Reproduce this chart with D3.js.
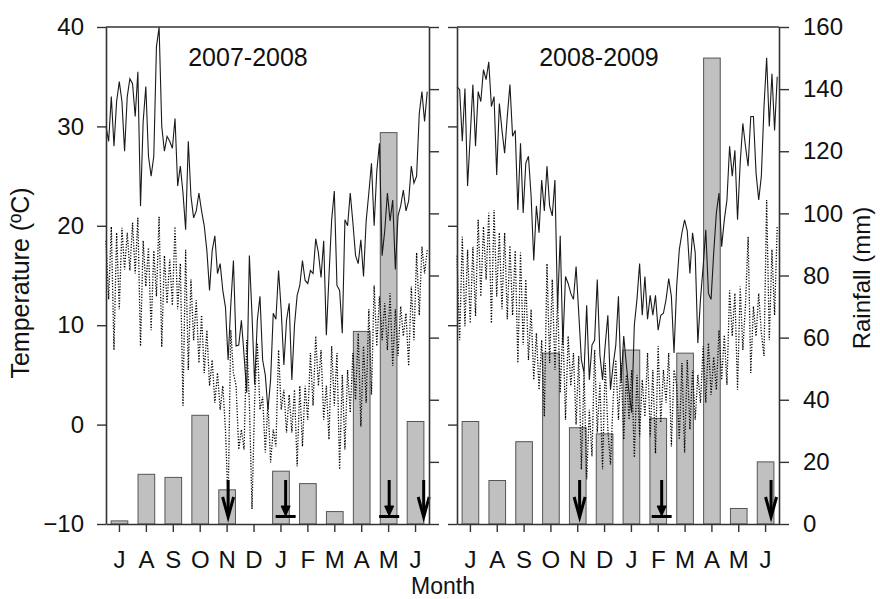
<!DOCTYPE html>
<html>
<head>
<meta charset="utf-8">
<script src="https://cdn.jsdelivr.net/npm/d3@7"></script>
<style>
  body { margin: 0; background: #fff; }
  svg { display: block; font-family: "Liberation Sans", Arial, sans-serif; }
</style>
</head>
<body>
<svg id="chart" width="880" height="599"></svg>
<script>
// Month labels (July to June) and axis ticks
const months = ["J", "A", "S", "O", "N", "D", "J", "F", "M", "A", "M", "J"];
const tempTicks = [-10, 0, 10, 20, 30, 40];
const rainTicks = [0, 20, 40, 60, 80, 100, 120, 140, 160];
const seasons = ["2007-2008", "2008-2009"];

// Monthly rainfall (mm)
const rain0708 = [1, 16, 15, 35, 11, 0, 17, 13, 4, 62, 126, 33];
const rain0809 = [33, 14, 26.5, 55, 31, 29, 56, 34, 55, 150, 5, 20];

// Daily temperature (°C), one reading every 3 days from 1 July
const dayStep = 3;
const tmax0708 = [
  30, 28.5, 33, 28, 32.5, 34.5, 32.5, 27.5, 33, 34.8,
  34.3, 31, 35.5, 22, 30.5, 34, 27, 25, 27, 38,
  40, 30, 27.5, 29, 28.5, 27.8, 30.8, 24, 26, 23.3,
  19.6, 28.5, 23, 20.8, 21.5, 23.3, 21.5, 20, 17.5, 13.5,
  17.5, 19, 15.2, 16.2, 13.5, 11.8, 6.5, 12, 16.5, 7.9,
  8, 10.5, 7, 3.2, 17, 11, 4, 10.5, 12.9, 6.5,
  5, 1.5, 4.5, 11.2, 10.6, 15.5, 11.5, 6, 10.5, 12.2,
  4.5, 10, 13, 14, 16.5, 14.5, 14.2, 15.5, 15.2, 18.7,
  17.3, 14.8, 18.5, 9, 15, 20.6, 23.5, 14, 13.5, 9.2,
  20.6, 20, 23.3, 20.3, 17, 16.2, 18.6, 14.9, 20.5, 23.3,
  26.3, 20, 25.5, 28.3, 17, 19.5, 23.3, 20.5, 22.6, 15.6,
  21, 22, 23.6, 21.5, 22.5, 26, 24.3, 25, 31.3, 33.5,
  30.5, 33.5
];
const tmin0708 = [
  18.5, 12.6, 19.9, 7.5, 19.3, 11.6, 19.8, 15.6, 19.3, 15.5,
  20.3, 15.2, 20.8, 7.9, 18.5, 13.9, 17.8, 9.5, 17.5, 12.9,
  20.9, 7.8, 17, 12.2, 16.6, 12, 19.9, 11.6, 16.2, 1.9,
  17.6, 5.5, 14.6, 8.5, 12.5, 6.2, 11, 5.2, 9.5, 3.9,
  6.5, 2.2, 5.2, 1.5, 3.9, -0.5, -8, 9.5, 5.2, 3.9,
  -2.5, -0.5, -2.5, 8.5, 2.2, -8.5, 2.5, 8.2, 1.5, 2.8,
  -2.8, 2.2, -3.8, -0.5, -2.2, 7.5, 1.5, 3.5, -0.8, 3,
  -0.8, 3.5, -4.2, 3.9, -2.2, 3.9, 0.5, 7.2, 1.9, 8.9,
  3.9, 7.5, 0.5, 3.9, -1.5, 7.9, 1.9, 7.2, -4.5, 5,
  -2.5, 5.5, 1.2, 7.2, 2.5, 9.2, -0.2, 7.9, 2.2, 11.6,
  3, 14, 7.9, 12.9, 8.5, 12.2, 7.5, 13.2, 5.9, 11.6,
  6.9, 11.9, 8.9, 11.2, 5.9, 13.9, 8.5, 17.3, 11, 17.9,
  15.2, 17.6
];
const tmax0809 = [
  34, 33.7, 28.5, 33.8, 24, 29, 34.2, 28, 33.5, 32.5,
  35.7, 34.7, 36.5, 32, 33, 25.1, 32.3, 29.6, 27.3, 31,
  34.2, 29, 29.6, 21.6, 28.3, 21.3, 26.3, 27, 23, 16.5,
  22, 19.3, 24.6, 21.5, 26, 22, 21, 24.6, 11.6, 19,
  8, 14.9, 14.2, 13.2, 12.6, 15.9, 11.2, 6.5, 5.2, 12,
  4.5, 8, 8.5, 14.6, 7, 4.5, 8, 11, 3.5, 6,
  8, 12.9, 4.2, 8.9, 6, 3.2, 1.2, 10, 12.6, 16.2,
  11, 14.9, 10.6, 13, 11, 13, 9.5, 11, 11.2, 12.6,
  14.7, 12.9, 7.2, 13.9, 17.6, 19.3, 20.6, 19.5, 15.2, 19.3,
  17.3, 8.2, 12.6, 15.9, 19.6, 13.2, 12.6, 17.3, 21.3, 23.3,
  17.9, 20.6, 22.6, 28, 25, 27.6, 20.6, 26.3, 30.3, 28,
  26, 31, 31, 25.3, 22.6, 25, 32, 36.9, 30, 35.3,
  29.6, 35
];
const tmin0809 = [
  17, 8.5, 18.9, 9.9, 17.6, 10.2, 17.9, 10.9, 20.6, 12.9,
  19.9, 14.6, 21.3, 10.2, 21.6, 12.9, 19.3, 11.6, 19.3, 10.6,
  18, 11, 17.5, 6.2, 17.3, 8, 14.6, 6.5, 11.6, 4.5,
  9.2, 3.5, 8.5, 0.8, 16.2, 6.2, 14.6, 5.5, 12.6, 3.2,
  9.9, 0.5, 8.9, 3.9, 7.2, 0, 6.9, -4.5, 5.2, -5.5,
  1.5, -3.2, 7.5, -0.8, 4.2, -4.5, 6.2, -0.5, -4, 2.5,
  6.5, 0.5, 6.2, -1.5, 5, 0.5, 5.5, -3.3, 5, -1.2,
  4.5, 0.8, 7.2, -1.2, 5.5, -2.9, 7.9, 0.2, 5.5, 2.2,
  7.2, -2.2, 5.5, 4, -1.5, 6.2, -2.8, 6.5, -0.5, 5.5,
  0.5, 5, 2.2, 7.9, 2.2, 8.2, 3, 6.8, 3.5, 9.5,
  4.5, 9, 4, 13.5, 8.9, 13.2, 3.5, 13.9, 7.5, 12,
  18.9, 5.2, 11.9, 8.9, 13.2, 9.2, 6.9, 22.6, 8.5, 17.6,
  11, 20
];

// Event markers: day of season (from 1 July) and marker kind
const arrowDays0708 = [138, 203, 320, 359];
const arrowKinds0708 = ["open", "bar", "bar", "open"];
const arrowDays0809 = [139, 232, 356];
const arrowKinds0809 = ["open", "bar", "open"];

// ---- layout ----
const plotTop = 27, plotBottom = 524;
const axisColor = "#333";
const panels = [
  { x0: 106, x1: 429, title: seasons[0], rain: rain0708, tmax: tmax0708, tmin: tmin0708,
    arrowDays: arrowDays0708, arrowKinds: arrowKinds0708, leftLabels: true, rightLabels: false },
  { x0: 457, x1: 779, title: seasons[1], rain: rain0809, tmax: tmax0809, tmin: tmin0809,
    arrowDays: arrowDays0809, arrowKinds: arrowKinds0809, leftLabels: false, rightLabels: true }
];

const svg = d3.select("#chart");
const yT = d3.scaleLinear().domain([-10, 40]).range([plotBottom, plotTop]);
const yR = d3.scaleLinear().domain([0, 160]).range([plotBottom, plotTop]);

function styleAxis(g) {
  g.select(".domain").attr("stroke", axisColor).attr("stroke-width", 1.6);
  g.selectAll(".tick line").attr("stroke", axisColor).attr("stroke-width", 1.4);
  g.selectAll(".tick text").attr("fill", "#111").style("font-size", "24px")
    .style("font-family", '"Liberation Sans", Arial, sans-serif');
}

panels.forEach(p => {
  const g = svg.append("g");
  const xBand = d3.scaleBand().domain(d3.range(12)).range([p.x0, p.x1])
    .paddingInner(0.38).paddingOuter(0.19);
  const xDay = d3.scaleLinear().domain([0, 365]).range([p.x0, p.x1]);

  // rainfall bars
  g.append("g").selectAll("rect")
    .data(p.rain.map((v, i) => ({ v, i })).filter(d => d.v > 0))
    .join("rect")
    .attr("x", d => xBand(d.i))
    .attr("width", xBand.bandwidth())
    .attr("y", d => yR(d.v))
    .attr("height", d => plotBottom - yR(d.v))
    .attr("fill", "#c0c0c0")
    .attr("stroke", "#555")
    .attr("stroke-width", 1);

  // temperature lines
  const line = d3.line()
    .x((d, i) => xDay(i * dayStep))
    .y(d => yT(d));
  g.append("path").datum(p.tmin)
    .attr("d", line).attr("fill", "none")
    .attr("stroke", "#000").attr("stroke-width", 1.3)
    .attr("stroke-dasharray", "1.2,1.6");
  g.append("path").datum(p.tmax)
    .attr("d", line).attr("fill", "none")
    .attr("stroke", "#1a1a1a").attr("stroke-width", 1.1);

  // event arrows
  const ag = g.append("g").attr("stroke", "#000").attr("fill", "none").attr("stroke-width", 3);
  p.arrowDays.forEach((day, k) => {
    const cx = xDay(day);
    const kind = p.arrowKinds[k];
    if (kind === "open") {
      ag.append("line").attr("x1", cx).attr("x2", cx)
        .attr("y1", plotBottom - 44).attr("y2", plotBottom - 9);
      ag.append("polyline")
        .attr("points", [[cx - 5.5, plotBottom - 27], [cx, plotBottom - 7], [cx + 5.5, plotBottom - 27]].join(" "));
    } else {
      ag.append("line").attr("x1", cx).attr("x2", cx)
        .attr("y1", plotBottom - 44).attr("y2", plotBottom - 14);
      ag.append("polygon")
        .attr("points", [[cx - 4.5, plotBottom - 18], [cx + 4.5, plotBottom - 18], [cx, plotBottom - 8]].join(" "))
        .attr("fill", "#000").attr("stroke-width", 1);
      ag.append("line").attr("x1", cx - 10).attr("x2", cx + 10)
        .attr("y1", plotBottom - 7.5).attr("y2", plotBottom - 7.5);
    }
  });

  // frame top
  g.append("line").attr("x1", p.x0).attr("x2", p.x1)
    .attr("y1", plotTop).attr("y2", plotTop)
    .attr("stroke", axisColor).attr("stroke-width", 1.6);

  // left temperature axis
  const la = g.append("g").attr("transform", `translate(${p.x0},0)`)
    .call(d3.axisLeft(yT).tickValues(tempTicks).tickSize(9).tickPadding(13).tickSizeOuter(0)
      .tickFormat(p.leftLabels ? d3.format("d") : () => ""));
  styleAxis(la);

  // right rainfall axis
  const ra = g.append("g").attr("transform", `translate(${p.x1},0)`)
    .call(d3.axisRight(yR).tickValues(rainTicks).tickSize(10).tickPadding(14).tickSizeOuter(0)
      .tickFormat(p.rightLabels ? d3.format("d") : () => ""));
  styleAxis(ra);

  // month axis
  const ba = g.append("g").attr("transform", `translate(0,${plotBottom})`)
    .call(d3.axisBottom(xBand).tickSize(8).tickPadding(19).tickSizeOuter(0)
      .tickFormat(i => months[i]));
  styleAxis(ba);

  // season title
  g.append("text").attr("x", p.x0 + 142).attr("y", 66)
    .attr("text-anchor", "middle").style("font-size", "25px").attr("fill", "#111")
    .text(p.title);
});

// axis titles
svg.append("text").attr("transform", "translate(29,283) rotate(-90)")
  .attr("text-anchor", "middle").style("font-size", "25px").attr("fill", "#111")
  .text("Temperature (ºC)");
svg.append("text").attr("transform", "translate(870,278) rotate(-90)")
  .attr("text-anchor", "middle").style("font-size", "24px").attr("fill", "#111")
  .text("Rainfall (mm)");
svg.append("text").attr("x", 443).attr("y", 594)
  .attr("text-anchor", "middle").style("font-size", "23px").attr("fill", "#111")
  .text("Month");
</script>
</body>
</html>
